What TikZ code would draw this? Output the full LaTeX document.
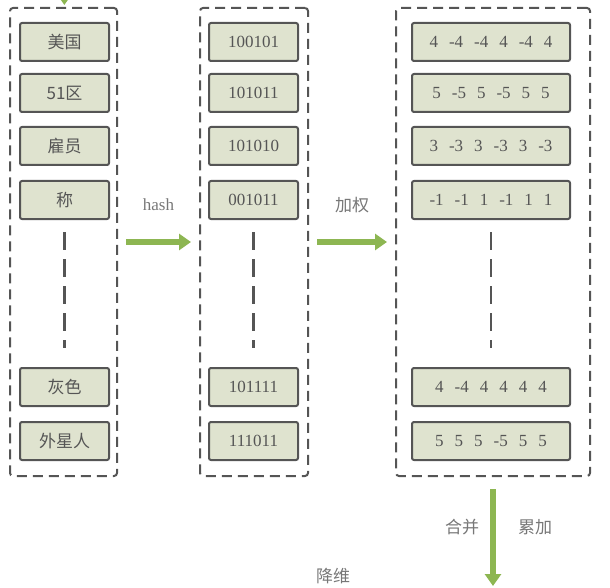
\documentclass[tikz,border=0pt]{standalone}
\usepackage{fontspec}
\setmainfont{Liberation Serif}
\newfontfamily\cjk{Noto Sans CJK SC}
\usepackage{tikz}
\usetikzlibrary{arrows.meta}
\definecolor{sh-green}{HTML}{8DB652}
\definecolor{sh-fill}{HTML}{DFE3CF}
\definecolor{sh-line}{HTML}{555555}
\definecolor{sh-text}{HTML}{555555}
\definecolor{sh-note}{HTML}{777777}

\begin{document}
\begin{tikzpicture}[x=1pt, y=-1pt,
    item/.style={draw=sh-line, fill=sh-fill, line width=2pt, rounded corners=2pt,
      minimum height=38pt, text=sh-text, font=\fontsize{17}{17}\selectfont},
    group/.style={draw=sh-line, line width=2pt, dash pattern=on 10pt off 6pt,
      rounded corners=3pt, minimum height=468pt},
    flow/.style={draw=sh-green, line width=6pt, -{Triangle[length=12pt,width=16pt]}},
    more/.style={draw=sh-line, line width=2.5pt, dash pattern=on 18pt off 9pt},
    note/.style={text=sh-note, font=\fontsize{17}{17}\selectfont}]
    \useasboundingbox (0,0) rectangle (610,588);

    % dashed groups
    \node[group, minimum width=107pt] (words) at (63.5,242) {};
    \node[group, minimum width=108pt] (hashes) at (254,242) {};
    \node[group, minimum width=194pt] (weights) at (493,242) {};

    % rows: word, hash, weighted vector
    \foreach \i/\y/\word/\bits/\vals in {
        1/42/美国/100101/{4 -4 -4 4 -4 4},
        2/93/51区/101011/{5 -5 5 -5 5 5},
        3/146/雇员/101010/{3 -3 3 -3 3 -3},
        4/200/称/001011/{-1 -1 1 -1 1 1},
        5/387/灰色/101111/{4 -4 4 4 4 4},
        6/441/外星人/111011/{5 5 5 -5 5 5}} {
        \node[item, minimum width=89pt] (w\i) at (64.5,\y) {\cjk\word};
        \node[item, minimum width=89pt] (h\i) at (253.5,\y) {\bits};
        \node[item, minimum width=158pt] (v\i) at (491,\y) {\spaceskip=11pt\relax\vals};
    }

    % elided rows
    \foreach \c in {w,h,v}
        \draw[more, shorten <=12pt, shorten >=19pt] (\c4) -- (\c5);

    % flow arrows
    \coordinate (input) at (64.5,-40);
    \coordinate (result) at (493,586);
    \draw[flow, shorten >=2pt] (input) -- (words);
    \draw[flow, shorten <=8pt, shorten >=8pt] (words) -- (hashes)
        node[note, midway, yshift=37pt] (hashlbl) {hash};
    \draw[flow, shorten <=8pt, shorten >=8pt] (hashes) -- (weights)
        node[note, midway, yshift=37pt] (weightlbl) {\cjk 加权};
    \draw[flow, shorten <=12pt] (weights) -- (result);

    \node[note] (mergelbl) at (462,527) {\cjk 合并};
    \node[note] (sumlbl) at (535,527) {\cjk 累加};
    \node[note] (reducelbl) at (333,576) {\cjk 降维};
\end{tikzpicture}
\end{document}
